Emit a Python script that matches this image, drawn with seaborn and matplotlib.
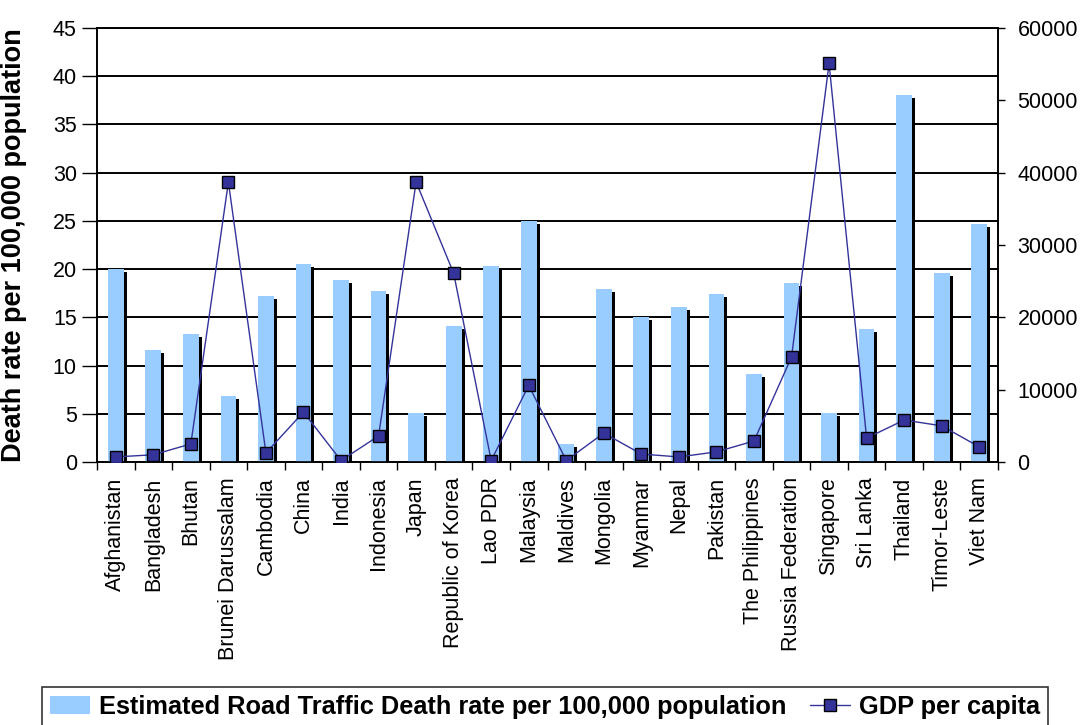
import numpy as np
import pandas as pd
import matplotlib
matplotlib.use("Agg")
import matplotlib.pyplot as plt
import matplotlib.transforms as mtransforms
from matplotlib.patches import Patch
from matplotlib.lines import Line2D
import seaborn as sns

countries = [
    "Afghanistan", "Bangladesh", "Bhutan", "Brunei Darussalam", "Cambodia",
    "China", "India", "Indonesia", "Japan", "Republic of Korea", "Lao PDR",
    "Malaysia", "Maldives", "Mongolia", "Myanmar", "Nepal", "Pakistan",
    "The Philippines", "Russia Federation", "Singapore", "Sri Lanka",
    "Thailand", "Timor-Leste", "Viet Nam",
]
death_rate = [
    20.0, 11.6, 13.3, 6.8, 17.2, 20.5, 18.9, 17.7, 5.1, 14.1, 20.3, 25.0,
    1.9, 17.9, 15.0, 16.1, 17.4, 9.1, 18.6, 5.1, 13.8, 38.1, 19.6, 24.7,
]
gdp_per_capita = [
    700, 1000, 2500, 38700, 1250, 6900, 200, 3600, 38700, 26100, 200, 10600,
    200, 4000, 1100, 700, 1400, 2900, 14500, 55100, 3300, 5800, 5000, 2100,
]
left_ticks = [0, 5, 10, 15, 20, 25, 30, 35, 40, 45]
right_ticks = [0, 10000, 20000, 30000, 40000, 50000, 60000]

bar_label = "Estimated Road Traffic Death rate per 100,000 population"
line_label = "GDP per capita"
y_label = "Death rate per 100,000 population"

BAR_BLUE = "#99CCFF"
LINE_BLUE = "#333399"

sns.set_theme(style="white")
plt.rcParams["font.family"] = ["Liberation Sans", "DejaVu Sans"]
plt.rcParams.update({
    "text.color": "black",
    "axes.labelcolor": "black",
    "xtick.color": "black",
    "ytick.color": "black",
})

df = pd.DataFrame({
    "country": countries,
    "rate": death_rate,
    "gdp": gdp_per_capita,
    "pos": np.arange(len(countries)),
})

fig = plt.figure(figsize=(10.85, 7.25), dpi=100)
ax = fig.add_axes([97 / 1085, 1 - 462 / 725, 901 / 1085, 434 / 725])

# drop shadow behind each bar, shifted right and down
sns.barplot(data=df, x="country", y="rate", color="black", width=0.42,
            saturation=1, ax=ax, zorder=2)
shadow_patches = list(ax.patches)
shift = mtransforms.ScaledTranslation(3 / 100, -3 / 100, fig.dpi_scale_trans)
for p in shadow_patches:
    p.set_transform(ax.transData + shift)
    p.set_edgecolor("none")

sns.barplot(data=df, x="country", y="rate", color=BAR_BLUE, width=0.42,
            saturation=1, ax=ax, zorder=3)
for p in ax.patches[len(shadow_patches):]:
    p.set_edgecolor("none")

ax.set_xlim(-0.5, len(countries) - 0.5)
ax.set_ylim(0, 45)
ax.set_yticks(left_ticks)
ax.set_yticklabels([str(t) for t in left_ticks], fontsize=15.5)
ax.yaxis.grid(True, color="black", linewidth=1.4, zorder=0)
ax.set_axisbelow(True)
ax.set_xlabel("")
ax.set_ylabel(y_label, fontsize=19.5, fontweight="bold")
ax.yaxis.set_label_coords(-0.078, 0.5)

ax.set_xticks(np.arange(len(countries)))
ax.set_xticklabels(countries, rotation=90, fontsize=15.5, va="top", ha="center")
ax.set_xticks(np.arange(-0.5, len(countries)), minor=True)
ax.tick_params(axis="x", which="major", length=0, pad=11)
ax.tick_params(axis="x", which="minor", length=5.5, width=1, color="black",
               direction="out", bottom=True)
ax.tick_params(axis="y", which="major", length=10.5, width=1, color="black",
               direction="out", left=True, pad=4)
for s in ax.spines.values():
    s.set_color("black")
    s.set_linewidth(1.2)

ax2 = ax.twinx()
sns.lineplot(data=df, x="pos", y="gdp", ax=ax2, color=LINE_BLUE, linewidth=1,
             marker="s", markersize=8, markerfacecolor=LINE_BLUE,
             markeredgecolor="black", markeredgewidth=1, zorder=5)
ax2.set_ylim(0, 60000)
ax2.set_yticks(right_ticks)
ax2.set_yticklabels([str(t) for t in right_ticks], fontsize=15.5)
ax2.set_ylabel("")
ax2.set_xlabel("")
ax2.tick_params(axis="y", which="major", length=5, width=1, color="black",
                direction="out", right=True, pad=9)
ax2.grid(False)
for s in ax2.spines.values():
    s.set_color("black")
    s.set_linewidth(1.2)

handles = [
    Patch(facecolor=BAR_BLUE, edgecolor="none"),
    Line2D([0], [0], color=LINE_BLUE, linewidth=1, marker="s", markersize=8,
           markerfacecolor=LINE_BLUE, markeredgecolor="black"),
]
leg = fig.legend(handles, [bar_label, line_label], loc="upper left",
                 bbox_to_anchor=(42 / 1085, 1 - 687 / 725), ncol=2,
                 frameon=True, fancybox=False, edgecolor="black",
                 prop={"weight": "bold", "size": 18.3},
                 handlelength=1.6, handletextpad=0.35, columnspacing=0.9,
                 borderpad=0.3, borderaxespad=0)
leg.get_frame().set_linewidth(1.2)

fig.savefig("out.png", dpi=100)
